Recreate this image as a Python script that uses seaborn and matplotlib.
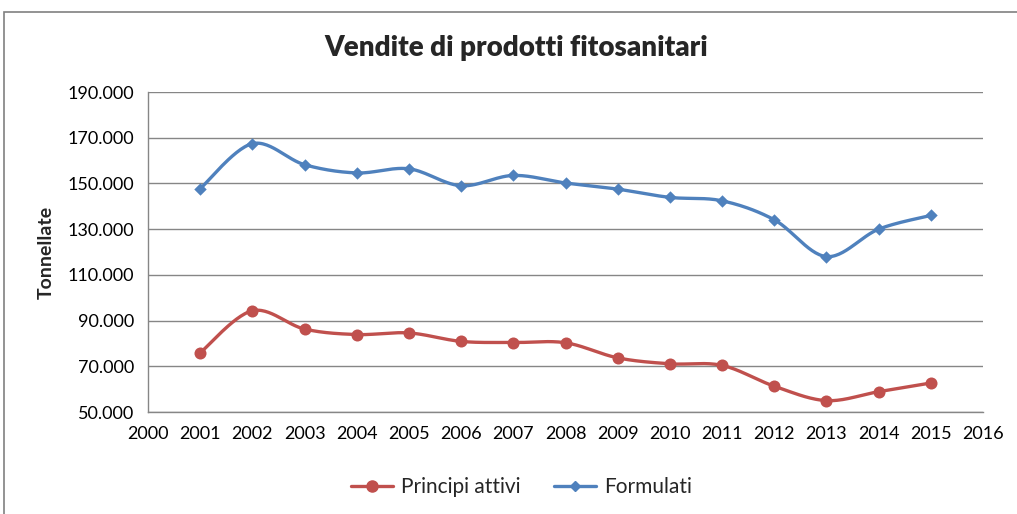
import numpy as np
import pandas as pd
import matplotlib
matplotlib.use("Agg")
import matplotlib.pyplot as plt
from matplotlib.lines import Line2D
from matplotlib.patches import Rectangle
from matplotlib.ticker import FuncFormatter, MultipleLocator, FixedLocator
import seaborn as sns

# Sales of plant protection products (tonnes)
years = [2001, 2002, 2003, 2004, 2005, 2006, 2007, 2008,
         2009, 2010, 2011, 2012, 2013, 2014, 2015]
principi_attivi = [75900, 94300, 86300, 83900, 84600, 80900, 80400, 80300,
                   73700, 71100, 70400, 61300, 55000, 58900, 62700]
formulati = [147700, 167400, 158200, 154600, 156400, 149000, 153500, 150200,
             147500, 143900, 142400, 134100, 118000, 130000, 136000]

series_names = ["Principi attivi", "Formulati"]
title = "Vendite di prodotti fitosanitari"
ylabel = "Tonnellate"
y_ticks = [50000, 70000, 90000, 110000, 130000, 150000, 170000, 190000]

RED = "#C0504D"
BLUE = "#4F81BD"
GRID = "#868686"

sns.set_theme(style="white")
plt.rcParams["font.family"] = ["Lato", "DejaVu Sans"]


def smooth_curve(x, y, n=30):
    """Bezier smoothing through every data point (spreadsheet-style smoothed line)."""
    x = np.asarray(x, float)
    y = np.asarray(y, float)
    px = np.concatenate([[x[0]], x, [x[-1]]])
    py = np.concatenate([[y[0]], y, [y[-1]]])
    t = np.linspace(0, 1, n)[:, None]
    xs, ys = [], []
    for i in range(1, len(px) - 2):
        p0 = np.array([px[i], py[i]])
        p3 = np.array([px[i + 1], py[i + 1]])
        c1 = p0 + (p3 - np.array([px[i - 1], py[i - 1]])) / 6
        c2 = p3 - (np.array([px[i + 2], py[i + 2]]) - p0) / 6
        b = ((1 - t) ** 3) * p0 + 3 * ((1 - t) ** 2) * t * c1 + 3 * (1 - t) * t ** 2 * c2 + t ** 3 * p3
        xs.append(b[:, 0])
        ys.append(b[:, 1])
    return np.concatenate(xs), np.concatenate(ys)


fig = plt.figure(figsize=(10.17, 5.14), dpi=100)
ax = fig.add_axes([0.1455, 0.1984, 0.8211, 0.6226])

# outer chart frame
fig.patches.append(Rectangle((4 / 1017, -0.05), 1.1, 1 - 12 / 514 + 0.05,
                             transform=fig.transFigure, fill=False,
                             edgecolor="#808080", linewidth=1.2))

data = pd.DataFrame({"anno": years, series_names[0]: principi_attivi,
                     series_names[1]: formulati})

for name, color, marker, msize in [(series_names[0], RED, "o", 75),
                                   (series_names[1], BLUE, "D", 40)]:
    sx, sy = smooth_curve(data["anno"], data[name])
    sns.lineplot(x=sx, y=sy, ax=ax, color=color, linewidth=2.4, sort=False,
                 estimator=None, zorder=3)
    sns.scatterplot(x=data["anno"], y=data[name], ax=ax, color=color,
                    marker=marker, s=msize, edgecolor=color, linewidth=0, zorder=4)

ax.set_xlim(2000, 2016)
ax.set_ylim(y_ticks[0], y_ticks[-1])
ax.xaxis.set_major_locator(MultipleLocator(1))
ax.yaxis.set_major_locator(FixedLocator(y_ticks))
ax.yaxis.set_major_formatter(FuncFormatter(lambda v, p: f"{int(v):,}".replace(",", ".")))
ax.grid(axis="y", color=GRID, linewidth=1.0)
ax.set_axisbelow(True)
for side in ["top", "right"]:
    ax.spines[side].set_visible(False)
for side in ["left", "bottom"]:
    ax.spines[side].set_color(GRID)
    ax.spines[side].set_linewidth(1.0)
ax.tick_params(axis="both", which="major", direction="out", length=5, width=1,
               color=GRID, labelsize=13, labelcolor="black")
ax.tick_params(axis="x", pad=5)
ax.tick_params(axis="y", pad=5)
ax.set_xlabel("")
ax.set_ylabel(ylabel, fontsize=14, fontweight="bold", labelpad=9)

fig.text(0.508, 1 - 48 / 514, title, ha="center", va="center",
         fontsize=20, fontweight="heavy")

handles = [Line2D([], [], color=RED, linewidth=2.4, marker="o", markersize=8),
           Line2D([], [], color=BLUE, linewidth=2.4, marker="D", markersize=5.5)]
fig.legend(handles, series_names, loc="center", bbox_to_anchor=(0.513, 1 - 487 / 514),
           ncol=2, frameon=False, fontsize=15, handlelength=2.0,
           handletextpad=0.4, columnspacing=1.6)

fig.savefig("out.png", dpi=100)
